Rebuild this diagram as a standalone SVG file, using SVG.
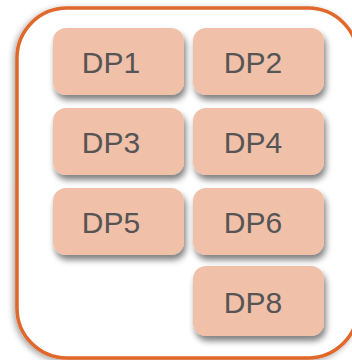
<svg xmlns="http://www.w3.org/2000/svg" width="352" height="360" viewBox="0 0 352 360">
<style>
.box{fill:#F0C0A8;}
.lbl{font-family:"Liberation Sans",Arial,sans-serif;font-size:30px;fill:#555555;text-anchor:middle;}
</style>
<defs>
<filter id="sh" x="-20%" y="-20%" width="150%" height="160%">
<feGaussianBlur in="SourceAlpha" stdDeviation="3"/>
<feOffset dx="2" dy="5" result="b"/>
<feComponentTransfer><feFuncA type="linear" slope="0.5"/></feComponentTransfer>
<feMerge><feMergeNode/><feMergeNode in="SourceGraphic"/></feMerge>
</filter>
<filter id="osh" x="-10%" y="-10%" width="120%" height="120%">
<feGaussianBlur in="SourceAlpha" stdDeviation="3"/>
<feOffset dx="-2" dy="2"/>
<feComponentTransfer><feFuncA type="linear" slope="0.35"/></feComponentTransfer>
<feMerge><feMergeNode/><feMergeNode in="SourceGraphic"/></feMerge>
</filter>
</defs>
<g id="container">
<rect x="17" y="8" width="341" height="350" rx="50" ry="50" fill="#FFFFFF" stroke="#E0672A" stroke-width="3.5" filter="url(#osh)"/>
</g>
<g id="connectors"/>
<g id="DP1"><rect class="box" x="53" y="28" width="131" height="67" rx="13" filter="url(#sh)"/><text class="lbl" x="111" y="73">DP1</text></g>
<g id="DP2"><rect class="box" x="193" y="28" width="131" height="67" rx="13" filter="url(#sh)"/><text class="lbl" x="253" y="73">DP2</text></g>
<g id="DP3"><rect class="box" x="53" y="108" width="131" height="67" rx="13" filter="url(#sh)"/><text class="lbl" x="111" y="153">DP3</text></g>
<g id="DP4"><rect class="box" x="193" y="108" width="131" height="67" rx="13" filter="url(#sh)"/><text class="lbl" x="253" y="153">DP4</text></g>
<g id="DP5"><rect class="box" x="53" y="188" width="131" height="67" rx="13" filter="url(#sh)"/><text class="lbl" x="111" y="233">DP5</text></g>
<g id="DP6"><rect class="box" x="193" y="188" width="131" height="67" rx="13" filter="url(#sh)"/><text class="lbl" x="253" y="233">DP6</text></g>
<g id="DP8"><rect class="box" x="193" y="266" width="131" height="70" rx="13" filter="url(#sh)"/><text class="lbl" x="253" y="313">DP8</text></g>
</svg>
